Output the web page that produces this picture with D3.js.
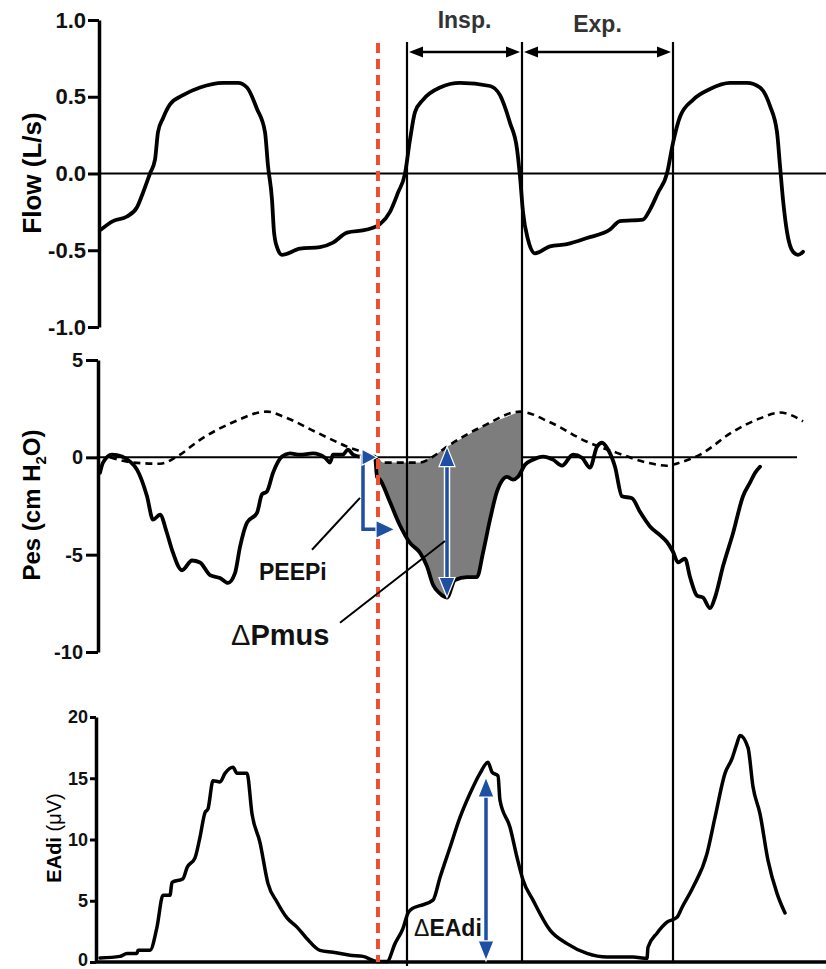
<!DOCTYPE html>
<html>
<head>
<meta charset="utf-8">
<script src="https://cdn.jsdelivr.net/npm/d3@7"></script>
<style>
  body { margin: 0; background: #fff; }
  svg { display: block; font-family: "Liberation Sans", Arial, sans-serif; }
  .tick text { font-weight: bold; fill: #111; }
</style>
</head>
<body>
<script>
// time in s, value
var flowData = [
  [0.01,-0.365],[0.13,-0.31],[0.27,-0.28],[0.37,-0.22],[0.43,-0.125],[0.50,0],[0.55,0.09],[0.58,0.27],
  [0.63,0.36],[0.70,0.45],[0.83,0.51],[1.00,0.56],[1.23,0.59],[1.38,0.59],[1.47,0.56],[1.57,0.42],
  [1.65,0.27],[1.68,0.05],[1.72,-0.17],[1.74,-0.38],[1.77,-0.48],[1.82,-0.53],[2.00,-0.49],[2.20,-0.48],
  [2.33,-0.45],[2.47,-0.385],[2.67,-0.365],[2.80,-0.33],[2.90,-0.25],[2.98,-0.125],[3.05,0],[3.10,0.22],
  [3.15,0.40],[3.23,0.48],[3.40,0.56],[3.60,0.59],[3.90,0.57],[4.00,0.51],[4.10,0.33],[4.17,0.16],
  [4.20,-0.02],[4.23,-0.25],[4.28,-0.43],[4.35,-0.52],[4.50,-0.475],[4.67,-0.46],[4.87,-0.42],[5.10,-0.365],
  [5.20,-0.31],[5.43,-0.30],[5.50,-0.235],[5.58,-0.125],[5.67,0],[5.73,0.2],[5.80,0.37],[5.93,0.48],
  [6.10,0.55],[6.30,0.59],[6.47,0.59],[6.60,0.56],[6.70,0.44],[6.77,0.27],[6.80,0.05],[6.83,-0.17],
  [6.87,-0.38],[6.93,-0.51],[6.98,-0.53],[7.03,-0.51]
];

var pesData = [
  [0.00,-0.8],[0.03,-0.27],[0.12,0.14],[0.22,0.04],[0.30,-0.22],[0.37,-0.63],[0.47,-2.0],[0.53,-3.2],
  [0.60,-2.95],[0.67,-3.9],[0.72,-4.75],[0.82,-5.8],[0.92,-5.3],[1.00,-5.4],[1.10,-6.05],[1.20,-6.2],
  [1.28,-6.45],[1.35,-5.95],[1.40,-4.6],[1.47,-3.35],[1.57,-2.85],[1.62,-1.9],[1.67,-1.75],[1.73,-0.8],
  [1.82,0.04],[1.90,0.2],[2.00,0.14],[2.13,0.2],[2.25,-0.02],[2.30,-0.27],[2.33,0.14],[2.43,0.14],
  [2.48,0.4],[2.53,0.14],[2.60,0.04],[2.75,0.04],[2.77,-1.0],[2.80,-1.15],[2.90,-2.3],[3.00,-3.5],
  [3.10,-4.4],[3.20,-4.9],[3.27,-5.6],[3.33,-6.55],[3.40,-7.0],[3.47,-7.2],[3.55,-6.3],[3.67,-6.15],
  [3.77,-6.15],[3.83,-4.9],[3.90,-3.2],[3.97,-1.75],[4.07,-1.0],[4.13,-1.15],[4.18,-1.0],[4.25,-0.38],
  [4.33,-0.12],[4.43,0.04],[4.53,-0.12],[4.62,-0.43],[4.73,0.14],[4.82,-0.02],[4.90,-0.53],[4.97,0.55],
  [5.02,0.75],[5.08,0.4],[5.15,-0.48],[5.22,-2.0],[5.32,-2.1],[5.40,-2.8],[5.50,-3.55],[5.60,-4.0],
  [5.67,-4.35],[5.73,-4.85],[5.78,-5.4],[5.85,-5.2],[5.90,-6.15],[5.97,-7.1],[6.03,-7.2],[6.10,-7.75],
  [6.15,-7.2],[6.23,-5.6],[6.33,-3.9],[6.43,-2.0],[6.50,-1.3],[6.55,-0.8],[6.60,-0.48]
];

var pesDashed = [
  [0.10,0],[0.33,-0.27],[0.60,-0.33],[0.77,0.04],[1.00,0.9],[1.33,1.8],[1.67,2.35],[1.83,2.1],
  [2.17,1.27],[2.47,0.55],[2.73,0.04],[2.83,-0.27],[3.07,-0.27],[3.20,-0.27],[3.33,0.04],[3.47,0.55],
  [3.83,1.6],[4.20,2.35],[4.50,1.8],[4.87,0.8],[5.17,0.23],[5.47,-0.27],[5.67,-0.43],[5.80,-0.27],
  [6.00,0.14],[6.33,1.32],[6.60,2.0],[6.80,2.3],[7.03,1.85]
];

var eadiData = [
  [0.00,0.33],[0.20,0.46],[0.27,0.7],[0.37,0.7],[0.38,0.95],[0.50,0.95],[0.57,2.85],[0.63,5.45],
  [0.70,5.45],[0.72,6.5],[0.83,6.8],[0.87,7.7],[0.95,8.5],[1.00,10.2],[1.05,12.2],[1.08,12.5],
  [1.13,14.8],[1.20,14.7],[1.25,15.4],[1.33,15.9],[1.37,15.4],[1.47,15.4],[1.52,12.1],[1.60,9.75],
  [1.68,6.4],[1.77,4.9],[1.87,3.6],[1.97,2.85],[2.07,1.9],[2.20,0.95],[2.33,0.8],[2.50,0.55],
  [2.63,0.46],[2.77,0.05],[2.87,0.05],[2.95,1.5],[3.03,2.75],[3.08,4.0],[3.13,4.4],[3.20,4.6],
  [3.33,5.05],[3.40,6.9],[3.50,9.35],[3.60,11.8],[3.70,13.75],[3.80,15.4],[3.88,16.3],[3.92,15.5],
  [3.98,15.2],[4.00,13.2],[4.10,11.0],[4.17,8.55],[4.23,6.7],[4.33,5.05],[4.50,2.6],[4.67,1.5],
  [4.87,0.7],[5.07,0.4],[5.33,0.4],[5.47,0.3],[5.48,1.2],[5.57,2.35],[5.67,3.25],[5.77,3.65],
  [5.82,4.45],[5.93,6.1],[6.07,8.85],[6.15,11.8],[6.25,15.4],[6.32,16.6],[6.37,17.85],[6.40,18.5],
  [6.48,17.5],[6.53,14.3],[6.60,12.1],[6.68,8.3],[6.77,5.6],[6.85,4.0]
];

var onsetTime = 2.78;               // red dashed line
var events = [3.07, 4.22, 5.73];    // insp start, exp start, next insp
var flowTicks = [-1, -0.5, 0, 0.5, 1];
var pesTicks = [-10, -5, 0, 5];
var eadiTicks = [0, 5, 10, 15, 20];

var W = 826, H = 969;
var blue = "#1f4fa3";

var svg = d3.select("body").append("svg").attr("width", W).attr("height", H);

var x = d3.scaleLinear().domain([0, 7.26]).range([100, 826]);
var yF = d3.scaleLinear().domain([-1, 1]).range([327, 20]);
var yP = d3.scaleLinear().domain([-10, 5]).range([652, 360]);
var yE = d3.scaleLinear().domain([0, 20]).range([962, 717]);

function interp(series, t) {
    var i = d3.bisector(function(d){ return d[0]; }).left(series, t);
    if (i <= 0) return series[0][1];
    if (i >= series.length) return series[series.length-1][1];
    var a = series[i-1], b = series[i];
    return a[1] + (b[1]-a[1]) * (t-a[0]) / (b[0]-a[0]);
}

// ---------- axes
var fAxis = svg.append("g").attr("transform", "translate(99,0)")
    .call(d3.axisLeft(yF).tickValues(flowTicks).tickSize(11).tickSizeOuter(0).tickPadding(2)
        .tickFormat(function(d){ return d.toFixed(1); }));
fAxis.selectAll("text").style("font-size", "22px");

var pAxis = svg.append("g").attr("transform", "translate(98,0)")
    .call(d3.axisLeft(yP).tickValues(pesTicks).tickSize(12).tickSizeOuter(0).tickPadding(3)
        .tickFormat(function(d){ return String(d); }));
pAxis.selectAll("text").style("font-size", "20px");

var eAxis = svg.append("g").attr("transform", "translate(96,0)")
    .call(d3.axisLeft(yE).tickValues(eadiTicks).tickSize(6).tickSizeOuter(0).tickPadding(2)
        .tickFormat(function(d){ return String(d); }));
eAxis.selectAll("text").style("font-size", "18px");
// bottom label sits on the page edge, keep it inside
eAxis.selectAll(".tick text").filter(function(d){ return d == 0; }).attr("dy", "0.2em");

[fAxis, pAxis, eAxis].forEach(function(g){
    g.select(".domain").attr("stroke", "#000").attr("stroke-width", 3.5);
    g.selectAll(".tick line").attr("stroke", "#000").attr("stroke-width", 3);
});

// EAdi baseline axis
svg.append("line").attr("x1", 95).attr("x2", 826).attr("y1", yE(0)).attr("y2", yE(0))
    .attr("stroke", "#000").attr("stroke-width", 3.5);

// zero lines
svg.append("line").attr("x1", 99).attr("x2", 826).attr("y1", yF(0)).attr("y2", yF(0))
    .attr("stroke", "#000").attr("stroke-width", 2);
svg.append("line").attr("x1", 98).attr("x2", x(6.97)).attr("y1", yP(0)).attr("y2", yP(0))
    .attr("stroke", "#000").attr("stroke-width", 2);

// axis titles
svg.append("text").attr("transform", "translate(41,173) rotate(-90)")
    .attr("text-anchor", "middle").style("font-size", "26px").style("font-weight", "bold")
    .text("Flow (L/s)");
var pt = svg.append("text").attr("transform", "translate(40,505) rotate(-90)")
    .attr("text-anchor", "middle").style("font-size", "24px").style("font-weight", "bold");
pt.append("tspan").text("Pes (cm H");
pt.append("tspan").attr("dy", 6).style("font-size", "15px").text("2");
pt.append("tspan").attr("dy", -6).text("O)");
var et = svg.append("text").attr("transform", "translate(61,838) rotate(-90)")
    .attr("text-anchor", "middle").style("font-size", "20px");
et.append("tspan").style("font-weight", "bold").text("EAdi ");
et.append("tspan").text("(\u03bcV)");

// ---------- grey area between dashed and solid Pes during inspiration
var t0 = 2.77, t1 = events[1];
var poly = [[t0, interp(pesData, t0)]];
pesData.forEach(function(d){ if (d[0] > t0 && d[0] < t1) poly.push(d); });
poly.push([t1, interp(pesData, t1)]);
poly.push([t1, interp(pesDashed, t1)]);
pesDashed.slice().reverse().forEach(function(d){ if (d[0] > t0 && d[0] < t1) poly.push(d); });
poly.push([t0, interp(pesDashed, t0)]);
svg.append("path")
    .attr("d", d3.line().x(function(d){ return x(d[0]); }).y(function(d){ return yP(d[1]); })(poly) + "Z")
    .attr("fill", "#7d7d7d");

// ---------- traces
function trace(data, y, opts) {
    return svg.append("path")
        .attr("d", d3.line().curve(d3.curveMonotoneX)
            .x(function(d){ return x(d[0]); }).y(function(d){ return y(d[1]); })(data))
        .attr("fill", "none").attr("stroke", "#000")
        .attr("stroke-width", opts.w).attr("stroke-linejoin", "round").attr("stroke-linecap", "round")
        .attr("stroke-dasharray", opts.dash || null);
}
trace(flowData, yF, {w: 3.8});
trace(pesDashed, yP, {w: 2.6, dash: "7,5"}).attr("stroke-linecap", "butt");
trace(pesData, yP, {w: 3.8});
trace(eadiData, yE, {w: 3.5});

// ---------- event lines
events.forEach(function(t, i){
    svg.append("line").attr("x1", x(t)).attr("x2", x(t)).attr("y1", 42).attr("y2", i == 0 ? 966 : 962)
        .attr("stroke", "#000").attr("stroke-width", 2.2);
});
svg.append("line").attr("x1", x(onsetTime)).attr("x2", x(onsetTime)).attr("y1", 43).attr("y2", 962)
    .attr("stroke", "#f04e2e").attr("stroke-width", 4).attr("stroke-dasharray", "10,6");

// Insp / Exp span arrows
function headPath(tx, ty, dir, len, half) {
    // dir: "l","r","u","d"
    if (dir == "r") return "M" + tx + "," + ty + "L" + (tx-len) + "," + (ty-half) + "L" + (tx-len) + "," + (ty+half) + "Z";
    if (dir == "l") return "M" + tx + "," + ty + "L" + (tx+len) + "," + (ty-half) + "L" + (tx+len) + "," + (ty+half) + "Z";
    if (dir == "u") return "M" + tx + "," + ty + "L" + (tx-half) + "," + (ty+len) + "L" + (tx+half) + "," + (ty+len) + "Z";
    return "M" + tx + "," + ty + "L" + (tx-half) + "," + (ty-len) + "L" + (tx+half) + "," + (ty-len) + "Z";
}
var spanY = 52;
var spans = [["Insp.", events[0], events[1], 28], ["Exp.", events[1], events[2], 32]];
spans.forEach(function(s){
    var xa = x(s[1]) + 2, xb = x(s[2]) - 2;
    svg.append("line").attr("x1", xa + 6).attr("x2", xb - 6).attr("y1", spanY).attr("y2", spanY)
        .attr("stroke", "#000").attr("stroke-width", 2.5);
    svg.append("path").attr("d", headPath(xa, spanY, "l", 14, 5.5)).attr("fill", "#000");
    svg.append("path").attr("d", headPath(xb, spanY, "r", 14, 5.5)).attr("fill", "#000");
    svg.append("text").attr("x", (xa + xb) / 2).attr("y", s[3]).attr("text-anchor", "middle")
        .style("font-size", "23px").style("font-weight", "bold").attr("fill", "#333").text(s[0]);
});

// ---------- blue annotation arrows
function blueLine(pts) {
    var p = d3.line()(pts);
    svg.append("path").attr("d", p).attr("fill", "none").attr("stroke", "#fff").attr("stroke-width", 6.5);
    svg.append("path").attr("d", p).attr("fill", "none").attr("stroke", blue).attr("stroke-width", 3.5);
}
function blueHead(d) {
    svg.append("path").attr("d", d).attr("fill", blue).attr("stroke", "#fff").attr("stroke-width", 1.2);
}

// PEEPi bracket
var pxT = x(2.63), pyTop = yP(0), pyBot = yP(-3.7);
blueLine([[pxT, pyTop - 2], [pxT, pyBot], [x(2.78), pyBot]]);
blueHead(headPath(x(2.77), pyTop, "r", 15, 8));
blueHead(headPath(x(2.95), pyBot, "r", 19, 9));

// dPmus double arrow
var mx = x(3.47), myTop = yP(0.55), myBot = yP(-7.2);
blueLine([[mx, myTop + 16], [mx, myBot - 16]]);
blueHead(headPath(mx, myTop, "u", 20, 8));
blueHead(headPath(mx, myBot, "d", 20, 8));

// dEAdi double arrow
var ex = x(3.86), eyTop = yE(15.1), eyBot = yE(0.1);
blueLine([[ex, eyTop + 16], [ex, eyBot - 16]]);
blueHead(headPath(ex, eyTop, "u", 20, 8));
blueHead(headPath(ex, eyBot, "d", 20, 8));

// leader lines
svg.append("line").attr("x1", x(2.12)).attr("y1", yP(-4.75)).attr("x2", x(2.60)).attr("y2", yP(-2.08))
    .attr("stroke", "#000").attr("stroke-width", 2);
svg.append("line").attr("x1", x(2.40)).attr("y1", yP(-8.5)).attr("x2", x(3.45)).attr("y2", yP(-4.3))
    .attr("stroke", "#000").attr("stroke-width", 2);

// labels
svg.append("text").attr("x", 259).attr("y", 580).style("font-size", "23px").style("font-weight", "bold")
    .attr("fill", "#111").text("PEEPi");
var dp = svg.append("text").attr("x", 231).attr("y", 645).style("font-size", "29px").style("font-weight", "bold")
    .attr("fill", "#111");
dp.append("tspan").style("font-weight", "normal").text("\u0394");
dp.append("tspan").text("Pmus");
var de = svg.append("text").attr("x", 414).attr("y", 936).style("font-size", "23px").style("font-weight", "bold")
    .attr("fill", "#111");
de.append("tspan").style("font-weight", "normal").text("\u0394");
de.append("tspan").text("EAdi");
</script>
</body>
</html>
